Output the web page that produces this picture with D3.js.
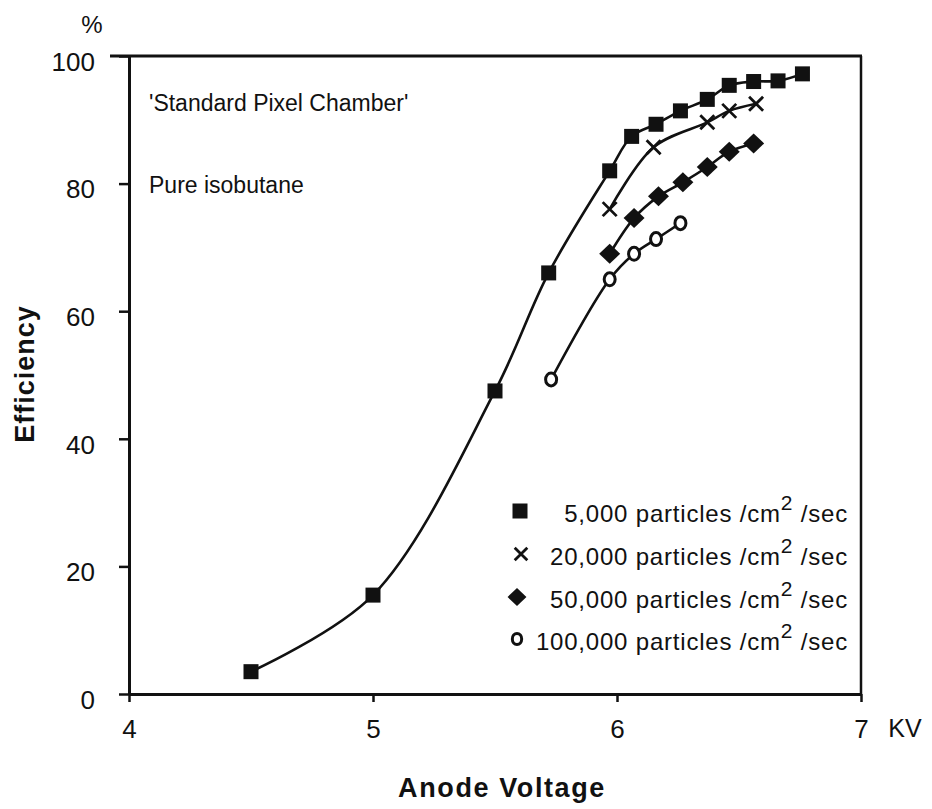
<!DOCTYPE html>
<html>
<head>
<meta charset="utf-8">
<script src="https://cdn.jsdelivr.net/npm/d3@7"></script>
<style>
  body { margin: 0; background: #fff; }
  svg text { font-family: "Liberation Sans", Arial, sans-serif; fill: #111; }
</style>
</head>
<body>
<div id="chart"></div>
<script>
// Data (anode voltage in kV, efficiency in %)
var rate5000V  = [4.5, 5.0, 5.5, 5.72, 5.97, 6.06, 6.16, 6.26, 6.37, 6.46, 6.56, 6.66, 6.76];
var rate5000E  = [3.5, 15.5, 47.5, 66, 82, 87.4, 89.3, 91.4, 93.2, 95.4, 96, 96.1, 97.2];

var rate20000V = [5.97, 6.15, 6.37, 6.46, 6.57];
var rate20000E = [76, 85.7, 89.6, 91.4, 92.5];

var rate50000V = [5.97, 6.07, 6.17, 6.27, 6.37, 6.46, 6.56];
var rate50000E = [69, 74.6, 78, 80.2, 82.6, 85, 86.3];

var rate100000V = [5.73, 5.97, 6.07, 6.16, 6.26];
var rate100000E = [49.3, 65, 69, 71.3, 73.8];

var xTicks = [4, 5, 6, 7];
var yTicks = [0, 20, 40, 60, 80, 100];

var legendLabels = ["5,000", "20,000", "50,000", "100,000"];

// ---------------------------------------------------------------------------------- //

var svg = d3.select("#chart")
  .append("svg")
  .attr("width", 932)
  .attr("height", 809);

var x = d3.scaleLinear().domain([4, 7]).range([129, 861]);
var y = d3.scaleLinear().domain([0, 100]).range([694, 56]);

//  Axes
var yAxis = d3.axisLeft(y).tickValues(yTicks).tickSize(10).tickSizeOuter(0)
  .tickPadding(24).tickFormat(d3.format("d"));
var xAxis = d3.axisBottom(x).tickValues(xTicks).tickSize(8).tickSizeOuter(0)
  .tickPadding(18).tickFormat(d3.format("d"));

var gy = svg.append("g").attr("transform", "translate(129,0)").call(yAxis);
var gx = svg.append("g").attr("transform", "translate(0,694)").call(xAxis);

[gy, gx].forEach(function(g) {
  g.attr("font-size", 26).attr("font-family", "Liberation Sans, Arial, sans-serif");
  g.selectAll("path.domain").attr("stroke", "#111").attr("stroke-width", 3);
  g.selectAll(".tick line").attr("stroke", "#111").attr("stroke-width", 2.5);
  g.selectAll(".tick text").style("fill", "#111");
});
gy.selectAll(".tick text").attr("dy", "0.55em");

// Top and right frame lines
svg.append("line")
  .attr("x1", 110).attr("x2", x(7) + 1)
  .attr("y1", y(100)).attr("y2", y(100))
  .attr("stroke", "#111").attr("stroke-width", 3);
svg.append("line")
  .attr("x1", x(7)).attr("x2", x(7))
  .attr("y1", y(100)).attr("y2", y(0))
  .attr("stroke", "#111").attr("stroke-width", 2.5);

//  Axis titles and units
svg.append("text").attr("x", 92).attr("y", 33).attr("text-anchor", "middle")
  .style("font-size", "24px").text("%");
svg.append("text").attr("x", 905).attr("y", 737).attr("text-anchor", "middle")
  .style("font-size", "25px").text("KV");
svg.append("text").attr("x", 502).attr("y", 797).attr("text-anchor", "middle")
  .style("font-size", "27px").style("font-weight", "bold")
  .style("letter-spacing", "1.6px").text("Anode Voltage");
svg.append("text")
  .attr("transform", "translate(34,374) rotate(-90)")
  .attr("text-anchor", "middle")
  .style("font-size", "27px").style("font-weight", "bold")
  .style("letter-spacing", "1px").text("Efficiency");

// Notes inside the plot
svg.append("text").attr("x", 149).attr("y", 111)
  .style("font-size", "23px").text("'Standard Pixel Chamber'");
svg.append("text").attr("x", 149).attr("y", 193)
  .style("font-size", "23px").text("Pure isobutane");

// ---------------------------------------------------------------------------------- //
//  Curves

var series = [
  { v: rate5000V,   e: rate5000E,   marker: "square" },
  { v: rate20000V,  e: rate20000E,  marker: "cross" },
  { v: rate50000V,  e: rate50000E,  marker: "diamond" },
  { v: rate100000V, e: rate100000E, marker: "circle" }
];

var line = d3.line()
  .x(function(d) { return x(d[0]); })
  .y(function(d) { return y(d[1]); })
  .curve(d3.curveCatmullRom.alpha(0.5));

function drawMarker(g, kind, cx, cy, scale) {
  var s = scale || 1;
  if (kind === "square") {
    g.append("rect")
      .attr("x", cx - 7.5 * s).attr("y", cy - 7.5 * s)
      .attr("width", 15 * s).attr("height", 15 * s)
      .attr("fill", "#111");
  } else if (kind === "cross") {
    g.append("path")
      .attr("d", "M" + (cx - 7 * s) + "," + (cy - 7 * s) + "L" + (cx + 7 * s) + "," + (cy + 7 * s) +
                 "M" + (cx + 7 * s) + "," + (cy - 7 * s) + "L" + (cx - 7 * s) + "," + (cy + 7 * s))
      .attr("stroke", "#111").attr("stroke-width", 2.8).attr("fill", "none");
  } else if (kind === "diamond") {
    g.append("path")
      .attr("d", "M" + cx + "," + (cy - 10 * s) + "L" + (cx + 10.5 * s) + "," + cy +
                 "L" + cx + "," + (cy + 10 * s) + "L" + (cx - 10.5 * s) + "," + cy + "Z")
      .attr("fill", "#111");
  } else {
    g.append("ellipse")
      .attr("cx", cx).attr("cy", cy)
      .attr("rx", 5.5 * s).attr("ry", 6.5 * s)
      .attr("fill", "#fff").attr("stroke", "#111").attr("stroke-width", 3);
  }
}

series.forEach(function(s) {
  var pts = s.v.map(function(v, i) { return [v, s.e[i]]; });
  svg.append("path")
    .datum(pts)
    .attr("d", line)
    .attr("fill", "none")
    .attr("stroke", "#111")
    .attr("stroke-width", 2.6);
  var g = svg.append("g");
  pts.forEach(function(p) {
    drawMarker(g, s.marker, x(p[0]), y(p[1]));
  });
});

// ---------------------------------------------------------------------------------- //
//  Legend

var legendY = [522, 565, 608, 650];
var legendMarkerX = [520, 521, 517, 517];
var legendScale = [1, 0.9, 0.9, 0.85];

series.forEach(function(s, i) {
  var g = svg.append("g");
  drawMarker(g, s.marker, legendMarkerX[i], legendY[i] - 11, legendScale[i]);

  var t = g.append("text")
    .attr("x", 848).attr("y", legendY[i])
    .attr("text-anchor", "end")
    .style("font-size", "24px")
    .style("letter-spacing", "0.8px");
  t.append("tspan").text(legendLabels[i] + " particles /cm");
  t.append("tspan").attr("dy", -12).style("font-size", "21px").text("2");
  t.append("tspan").attr("dy", 12).text(" /sec");
});
</script>
</body>
</html>
